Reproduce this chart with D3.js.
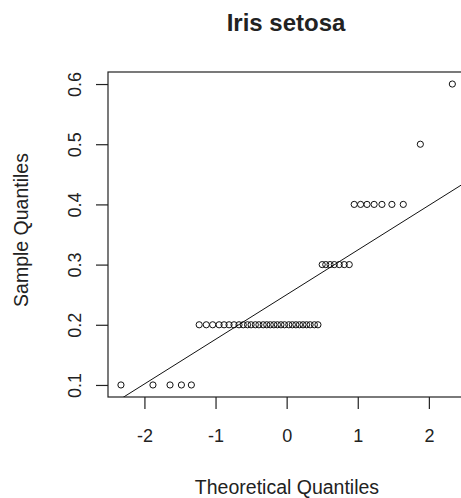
<!DOCTYPE html>
<html><head><meta charset="utf-8">
<script src="https://cdn.jsdelivr.net/npm/d3@7"></script>
<style>
html,body{margin:0;padding:0;background:#fff;overflow:hidden;}
text{font-family:"Liberation Sans",Arial,sans-serif;fill:#222;}
</style></head>
<body>
<svg id="c" width="461" height="498"></svg>
<script>
// Theoretical quantiles (x) and sample quantiles (y), Iris setosa petal width
const theoretical = [-2.33,-1.88,-1.64,-1.48,-1.34,-1.23,-1.13,-1.04,-0.95,-0.88,
  -0.81,-0.74,-0.67,-0.61,-0.55,-0.50,-0.44,-0.39,-0.33,-0.28,
  -0.23,-0.18,-0.13,-0.08,-0.03,0.03,0.08,0.13,0.18,0.23,
  0.28,0.33,0.39,0.44,0.50,0.55,0.61,0.67,0.74,0.81,
  0.88,0.95,1.04,1.13,1.23,1.34,1.48,1.64,1.88,2.33];
const sample = [0.1,0.1,0.1,0.1,0.1,
  0.2,0.2,0.2,0.2,0.2,0.2,0.2,0.2,0.2,0.2,0.2,0.2,0.2,0.2,0.2,
  0.2,0.2,0.2,0.2,0.2,0.2,0.2,0.2,0.2,0.2,0.2,0.2,0.2,0.2,
  0.3,0.3,0.3,0.3,0.3,0.3,0.3,
  0.4,0.4,0.4,0.4,0.4,0.4,0.4,
  0.5,0.6];
const lineX = [-0.674, 0.674];   // normal quartiles
const lineY = [0.2, 0.3];        // sample quartiles
const xTicks = [-2,-1,0,1,2];
const yTicks = [0.1,0.2,0.3,0.4,0.5,0.6];
const title = "Iris setosa";
const xLabel = "Theoretical Quantiles";
const yLabel = "Sample Quantiles";

const svg = d3.select("#c");
const L = 108, R = 465.3, T = 72, B = 397;
const x = d3.scaleLinear().domain([-2.5122, 2.5122]).range([L, R]);
const y = d3.scaleLinear().domain([0.08, 0.62]).range([B, T]);

svg.append("defs").append("clipPath").attr("id","clip")
  .append("rect").attr("x",L).attr("y",T).attr("width",R-L).attr("height",B-T);

// points
svg.append("g").selectAll("circle").data(theoretical).join("circle")
  .attr("cx", d => x(d)).attr("cy", (d,i) => y(sample[i]))
  .attr("r", 3.1).attr("fill","none").attr("stroke","#111").attr("stroke-width",1);

// qq line
const slope = (lineY[1]-lineY[0])/(lineX[1]-lineX[0]);
const icpt = lineY[0] - slope*lineX[0];
const xd = x.domain();
svg.append("line").attr("clip-path","url(#clip)")
  .attr("x1", x(xd[0])).attr("y1", y(icpt + slope*xd[0]))
  .attr("x2", x(xd[1])).attr("y2", y(icpt + slope*xd[1]))
  .attr("stroke","#111").attr("stroke-width",1);

// box
svg.append("rect").attr("x",L).attr("y",T).attr("width",R-L).attr("height",B-T)
  .attr("fill","none").attr("stroke","#222").attr("stroke-width",1.2);

// x axis
const xa = svg.append("g").attr("transform",`translate(0,${B})`)
  .call(d3.axisBottom(x).tickValues(xTicks).tickSize(12).tickSizeOuter(0).tickFormat(d3.format("d")).tickPadding(0));
xa.select(".domain").remove();
xa.selectAll("line").attr("stroke","#222").attr("stroke-width",1.2);
xa.selectAll("text").attr("font-size",18).attr("dy",null).attr("y",44.5).attr("fill","#222")
  .text(d => d < 0 ? "-" + Math.abs(d) : d);

// y axis
const ya = svg.append("g").attr("transform",`translate(${L},0)`)
  .call(d3.axisLeft(y).tickValues(yTicks).tickSize(12).tickSizeOuter(0).tickFormat(d3.format(".1f")));
ya.select(".domain").remove();
ya.selectAll("line").attr("stroke","#222").attr("stroke-width",1.2);
ya.selectAll("text").attr("font-size",18).attr("x",null).attr("dy",null)
  .attr("text-anchor","middle").attr("fill","#222")
  .attr("transform","translate(-27,0) rotate(-90)");

// titles
svg.append("text").attr("x",286).attr("y",31).attr("text-anchor","middle")
  .attr("font-size",24).attr("font-weight","bold").attr("fill","#111").text(title);
svg.append("text").attr("x",287).attr("y",494).attr("text-anchor","middle")
  .attr("font-size",19.5).text(xLabel);
svg.append("text").attr("transform","translate(28,230) rotate(-90)").attr("text-anchor","middle")
  .attr("font-size",19.5).text(yLabel);
</script>
</body></html>
